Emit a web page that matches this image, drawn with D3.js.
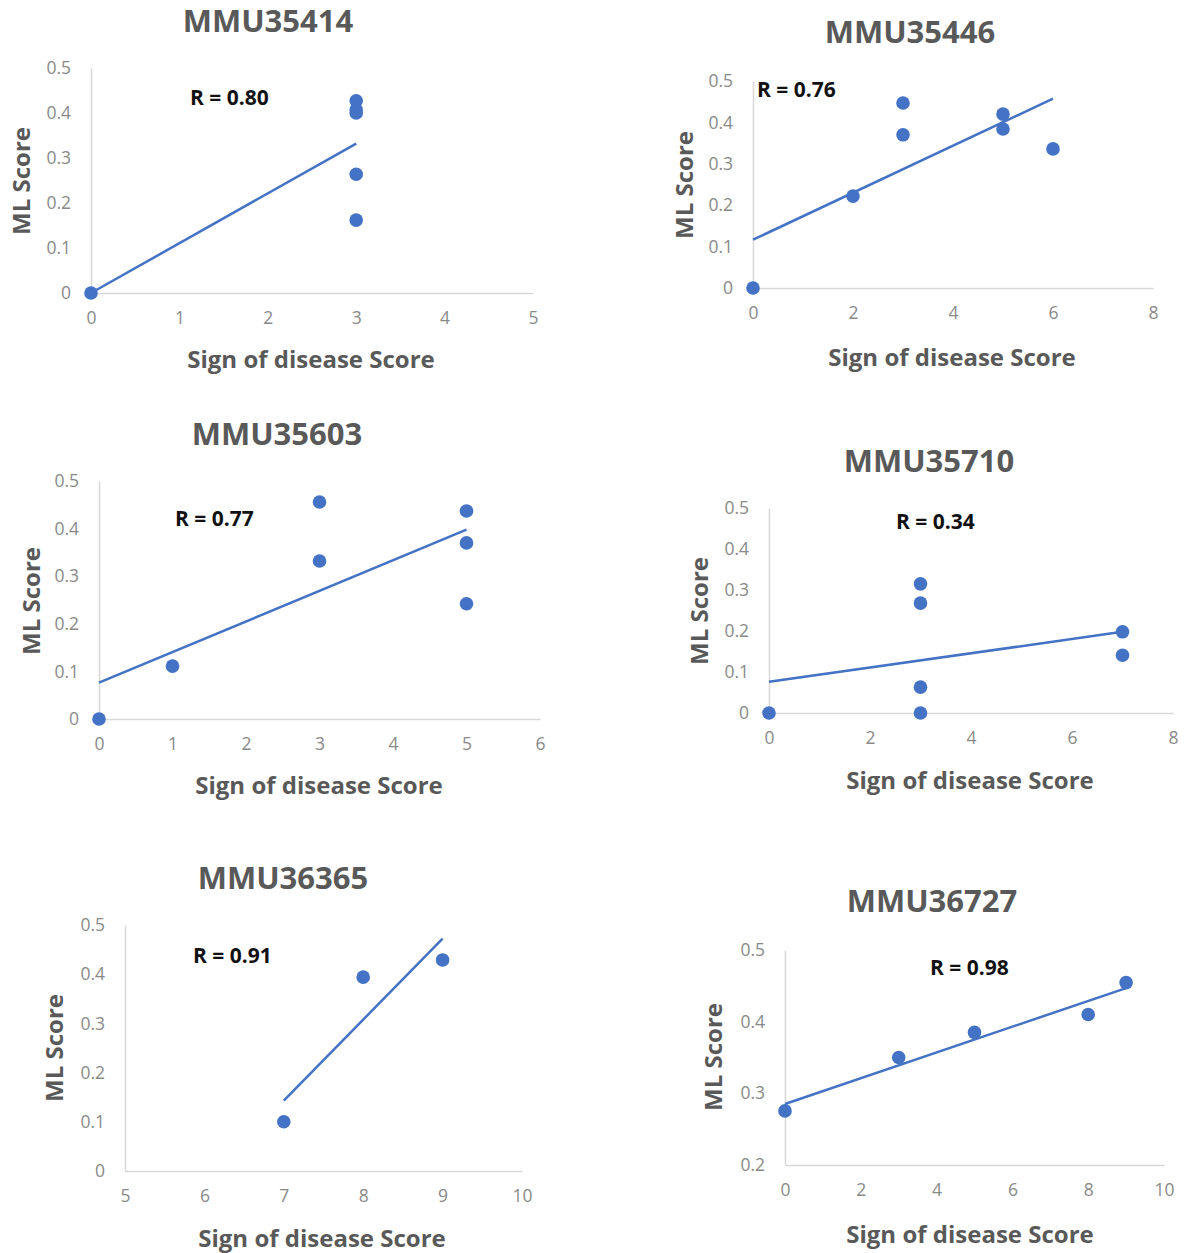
<!DOCTYPE html>
<html>
<head>
<meta charset="utf-8">
<script src="https://cdn.jsdelivr.net/npm/d3@7"></script>
<style>
  html, body { margin: 0; padding: 0; background: #ffffff; }
  svg { display: block; }
</style>
</head>
<body>
<script>
// Correlation of ML score against sign-of-disease score, one scatter per animal.

const titles = ["MMU35414", "MMU35446", "MMU35603", "MMU35710", "MMU36365", "MMU36727"];
const rLabels = ["R = 0.80", "R = 0.76", "R = 0.77", "R = 0.34", "R = 0.91", "R = 0.98"];

// Sign of disease score (x) and ML score (y) for each animal
const mmu35414X = [0, 3, 3, 3, 3, 3];
const mmu35414Y = [0, 0.427, 0.407, 0.400, 0.264, 0.162];

const mmu35446X = [0, 2, 3, 3, 5, 5, 6];
const mmu35446Y = [0, 0.222, 0.447, 0.370, 0.420, 0.384, 0.336];

const mmu35603X = [0, 1, 3, 3, 5, 5, 5];
const mmu35603Y = [0, 0.111, 0.456, 0.332, 0.437, 0.370, 0.242];

const mmu35710X = [0, 3, 3, 3, 3, 7, 7];
const mmu35710Y = [0, 0, 0.063, 0.268, 0.315, 0.198, 0.141];

const mmu36365X = [7, 8, 9];
const mmu36365Y = [0.100, 0.394, 0.429];

const mmu36727X = [0, 3, 5, 8, 9];
const mmu36727Y = [0.2755, 0.350, 0.385, 0.410, 0.4545];

// Axis tick values
const xTicks35414 = [0, 1, 2, 3, 4, 5];
const xTicks35446 = [0, 2, 4, 6, 8];
const xTicks35603 = [0, 1, 2, 3, 4, 5, 6];
const xTicks35710 = [0, 2, 4, 6, 8];
const xTicks36365 = [5, 6, 7, 8, 9, 10];
const xTicks36727 = [0, 2, 4, 6, 8, 10];
const yTicksA = [0, 0.1, 0.2, 0.3, 0.4, 0.5];
const yTicks36727 = [0.2, 0.3, 0.4, 0.5];

const xLabel = "Sign of disease Score";
const yLabel = "ML Score";

const series = [
  { x: mmu35414X, y: mmu35414Y, xt: xTicks35414, yt: yTicksA },
  { x: mmu35446X, y: mmu35446Y, xt: xTicks35446, yt: yTicksA },
  { x: mmu35603X, y: mmu35603Y, xt: xTicks35603, yt: yTicksA },
  { x: mmu35710X, y: mmu35710Y, xt: xTicks35710, yt: yTicksA },
  { x: mmu36365X, y: mmu36365Y, xt: xTicks36365, yt: yTicksA },
  { x: mmu36727X, y: mmu36727Y, xt: xTicks36727, yt: yTicks36727 }
];

// Plot frames (pixel rectangles) and label anchors for each panel
const frames = [
  { l: 91,  r: 533,  t: 68,  b: 293,  title: [268, 20],  yl: [20, 181],  xl: [311, 358],  rl: [190, 97] },
  { l: 753, r: 1153, t: 81,  b: 288,  title: [910, 31],  yl: [683, 185], xl: [952, 356],  rl: [757, 89] },
  { l: 99,  r: 540,  t: 481, b: 719,  title: [277, 433], yl: [30, 601],  xl: [319, 784],  rl: [175, 518] },
  { l: 769, r: 1173, t: 508, b: 713,  title: [929, 460], yl: [698, 611], xl: [970, 779],  rl: [896, 521] },
  { l: 125, r: 522,  t: 925, b: 1171, title: [283, 877], yl: [53, 1048], xl: [322, 1237], rl: [193, 955] },
  { l: 785, r: 1164, t: 950, b: 1165, title: [932, 900], yl: [712, 1057],xl: [970, 1233], rl: [930, 967] }
];

const BLUE = "#4472c4";
const AXIS = "#d9d9d9";
const TICK_TEXT = "#8a8a8a";
const LABEL_TEXT = "#595959";
const FONT = "'Open Sans', 'Noto Sans', sans-serif";

const svg = d3.select("body").append("svg")
  .attr("width", 1185).attr("height", 1253)
  .style("font-family", FONT);

// Ordinary least-squares fit over the observed points
function linearFit(xs, ys) {
  const n = xs.length;
  const mx = d3.mean(xs), my = d3.mean(ys);
  let sxy = 0, sxx = 0;
  for (let i = 0; i < n; i++) {
    sxy += (xs[i] - mx) * (ys[i] - my);
    sxx += (xs[i] - mx) * (xs[i] - mx);
  }
  const slope = sxy / sxx;
  return { slope, intercept: my - slope * mx };
}

series.forEach((s, i) => {
  const f = frames[i];
  const x = d3.scaleLinear().domain(d3.extent(s.xt)).range([f.l, f.r]);
  const y = d3.scaleLinear().domain(d3.extent(s.yt)).range([f.b, f.t]);
  const g = svg.append("g");

  // x axis
  const xa = g.append("g").attr("transform", `translate(0,${f.b})`)
    .call(d3.axisBottom(x).tickValues(s.xt).tickSize(0).tickPadding(19).tickFormat(d3.format("d")));
  xa.select(".domain").attr("stroke", AXIS).attr("stroke-width", 1.6);
  xa.selectAll("text").attr("fill", TICK_TEXT).attr("font-size", 17.5).attr("font-family", FONT);

  // y axis
  const ya = g.append("g").attr("transform", `translate(${f.l},0)`)
    .call(d3.axisLeft(y).tickValues(s.yt).tickSize(0).tickPadding(20)
      .tickFormat(d => d === 0 ? "0" : d3.format(".1f")(d)));
  ya.select(".domain").attr("stroke", AXIS).attr("stroke-width", 1.6);
  ya.selectAll("text").attr("fill", TICK_TEXT).attr("font-size", 17.5).attr("font-family", FONT);

  // trend line across the observed x range
  const fit = linearFit(s.x, s.y);
  const [x0, x1] = d3.extent(s.x);
  g.append("line")
    .attr("x1", x(x0)).attr("y1", y(fit.intercept + fit.slope * x0))
    .attr("x2", x(x1)).attr("y2", y(fit.intercept + fit.slope * x1))
    .attr("stroke", BLUE).attr("stroke-width", 2.5);

  // observations
  g.selectAll("circle").data(s.x.map((v, k) => [v, s.y[k]])).join("circle")
    .attr("cx", d => x(d[0])).attr("cy", d => y(d[1]))
    .attr("r", 6.8).attr("fill", BLUE);

  // title
  g.append("text").attr("x", f.title[0]).attr("y", f.title[1])
    .attr("text-anchor", "middle").attr("dominant-baseline", "central")
    .attr("font-size", 31).attr("font-weight", 700).attr("fill", LABEL_TEXT)
    .text(titles[i]);

  // axis titles
  g.append("text").attr("x", f.xl[0]).attr("y", f.xl[1])
    .attr("text-anchor", "middle").attr("dominant-baseline", "central")
    .attr("font-size", 24).attr("font-weight", 700).attr("fill", LABEL_TEXT)
    .text(xLabel);
  g.append("text")
    .attr("transform", `translate(${f.yl[0]},${f.yl[1]}) rotate(-90)`)
    .attr("text-anchor", "middle").attr("dominant-baseline", "central")
    .attr("font-size", 24).attr("font-weight", 700).attr("fill", LABEL_TEXT)
    .text(yLabel);

  // correlation annotation
  g.append("text").attr("x", f.rl[0]).attr("y", f.rl[1])
    .attr("dominant-baseline", "central")
    .attr("font-size", 21).attr("font-weight", 700).attr("fill", "#111111")
    .text(rLabels[i]);
});
</script>
</body>
</html>
